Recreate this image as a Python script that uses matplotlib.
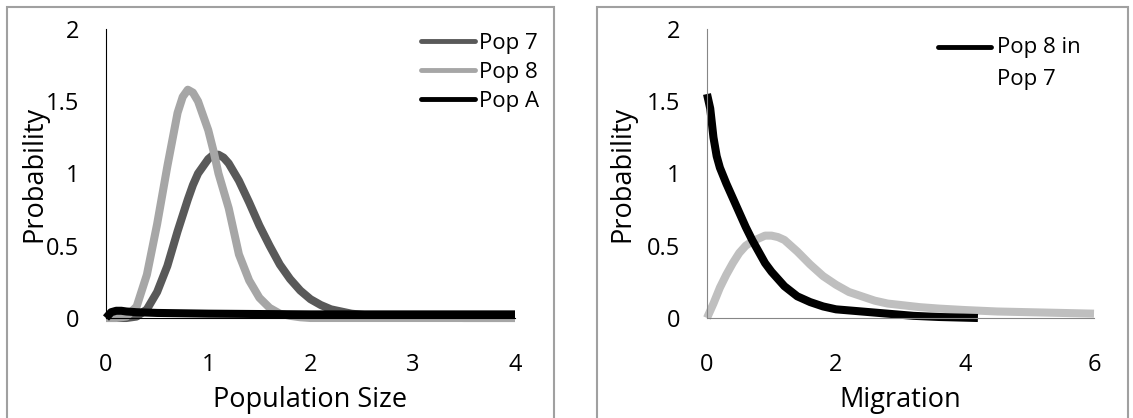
import numpy as np
import matplotlib
matplotlib.use("Agg")
import matplotlib.pyplot as plt
from matplotlib.patches import Rectangle

plt.rcParams['font.family'] = ['Open Sans', 'DejaVu Sans']

# left panel: population size
size_x = [0, 0.1, 0.2, 0.3, 0.4, 0.5, 0.6, 0.7, 0.75, 0.8, 0.85, 0.9, 1.0, 1.05, 1.1, 1.15,
          1.2, 1.3, 1.4, 1.5, 1.6, 1.7, 1.8, 1.9, 2.0, 2.1, 2.2, 2.4, 2.6, 2.8, 3.0, 3.5, 4.0]
pop7 = [0, 0, 0, 0.01, 0.06, 0.18, 0.36, 0.6, 0.71, 0.82, 0.92, 1.0, 1.1, 1.13, 1.13, 1.11,
        1.07, 0.95, 0.8, 0.64, 0.5, 0.37, 0.27, 0.19, 0.13, 0.09, 0.06, 0.03, 0.015, 0.01,
        0.005, 0, 0]
pop8 = [0, 0, 0.01, 0.08, 0.3, 0.65, 1.05, 1.42, 1.53, 1.58, 1.56, 1.5, 1.3, 1.16, 1.0,
        0.88, 0.76, 0.44, 0.26, 0.14, 0.07, 0.03, 0.015, 0.005, 0, 0, 0, 0, 0, 0, 0, 0, 0]
popA_x = [0, 0.05, 0.1, 0.15, 0.2, 0.3, 0.5, 1.0, 2.0, 3.0, 4.0]
popA = [0, 0.04, 0.05, 0.05, 0.045, 0.04, 0.035, 0.03, 0.025, 0.025, 0.025]

# right panel: migration
mig_x = [0, 0.05, 0.1, 0.15, 0.2, 0.3, 0.4, 0.5, 0.6, 0.7, 0.8, 0.9, 1.0, 1.2, 1.4,
         1.6, 1.8, 2.0, 2.4, 2.8, 3.2, 3.6, 4.2]
mig87 = [1.55, 1.45, 1.25, 1.12, 1.04, 0.93, 0.83, 0.73, 0.63, 0.54, 0.46, 0.38, 0.32,
         0.22, 0.15, 0.11, 0.08, 0.06, 0.045, 0.03, 0.015, 0.007, 0]
mig2_x = [0, 0.1, 0.2, 0.3, 0.4, 0.5, 0.6, 0.7, 0.8, 0.9, 1.0, 1.1, 1.2, 1.4, 1.6, 1.8,
          2.0, 2.2, 2.4, 2.6, 2.8, 3.0, 3.3, 3.6, 4.0, 4.5, 5.0, 5.5, 6.0]
mig2 = [0, 0.1, 0.21, 0.3, 0.38, 0.45, 0.5, 0.53, 0.55, 0.57, 0.57, 0.56, 0.54, 0.46,
        0.37, 0.29, 0.23, 0.18, 0.15, 0.12, 0.1, 0.09, 0.075, 0.065, 0.055, 0.045, 0.04,
        0.035, 0.03]

W, H = 1133, 418
fig = plt.figure(figsize=(W / 100, H / 100), dpi=100)

# panel frames
fig.patches.append(Rectangle((7 / W, -0.1), (554 - 7) / W, 1.1 - 7 / H, transform=fig.transFigure,
                             fill=False, edgecolor='#a0a0a0', linewidth=1.5))
fig.patches.append(Rectangle((597 / W, -0.1), (1128 - 597) / W, 1.1 - 7 / H, transform=fig.transFigure,
                             fill=False, edgecolor='#a0a0a0', linewidth=1.5))

lw = 5.8
fs = 17      # tick labels
lfs = 16     # legend
afs = 19.5   # axis titles
style = dict(lw=lw, solid_capstyle='butt', solid_joinstyle='round', clip_on=False)

ax1 = fig.add_axes([106 / W, 100 / H, 409 / W, 289 / H])
ax1.plot(size_x, pop7, color='#595959', label='Pop 7', **style)
ax1.plot(size_x, pop8, color='#a6a6a6', label='Pop 8', **style)
ax1.plot(popA_x, popA, color='black', label='Pop A', **style)
ax1.set_xlim(0, 4)
ax1.set_ylim(0, 2)
ax1.set_xticks([0, 1, 2, 3, 4])
ax1.set_yticks([0, 0.5, 1, 1.5, 2])
ax1.set_yticklabels(['0', '0.5', '1', '1.5', '2'])
for s in ['top', 'right']:
    ax1.spines[s].set_visible(False)
ax1.spines['left'].set_color('black')
ax1.spines['bottom'].set_color('black')
ax1.tick_params(length=0, labelsize=fs)
ax1.tick_params(axis='x', pad=25)
ax1.tick_params(axis='y', pad=19)
ax1.set_xlabel('Population Size', fontsize=afs)
ax1.set_ylabel('Probability', fontsize=afs)
ax1.xaxis.set_label_coords(0.5, -0.235)
ax1.yaxis.set_label_coords(-0.142, 0.5)
leg = ax1.legend(loc='upper left', bbox_to_anchor=(421 / W, 1 - 33 / H), bbox_transform=fig.transFigure,
                 frameon=False, fontsize=lfs, handlelength=2.43, handletextpad=0.18,
                 labelspacing=0.35, borderpad=0, borderaxespad=0)
for ln in leg.get_lines():
    ln.set_linewidth(3.5)
    ln.set_solid_capstyle('round')

ax2 = fig.add_axes([707 / W, 100 / H, 387 / W, 289 / H])
ax2.plot(mig2_x, mig2, color='#bfbfbf', **style)
ax2.plot(mig_x, mig87, color='black', **style)
ax2.set_xlim(0, 6)
ax2.set_ylim(0, 2)
ax2.set_xticks([0, 2, 4, 6])
ax2.set_yticks([0, 0.5, 1, 1.5, 2])
ax2.set_yticklabels(['0', '0.5', '1', '1.5', '2'])
for s in ['top', 'right']:
    ax2.spines[s].set_visible(False)
ax2.spines['left'].set_color('#868686')
ax2.spines['bottom'].set_color('#868686')
ax2.tick_params(length=0, labelsize=fs)
ax2.tick_params(axis='x', pad=25)
ax2.tick_params(axis='y', pad=19)
ax2.set_xlabel('Migration', fontsize=afs)
ax2.set_ylabel('Probability', fontsize=afs)
ax2.xaxis.set_label_coords(0.5, -0.235)
ax2.yaxis.set_label_coords(-0.183, 0.5)

# legend for the black curve, handle next to the first text line
ax2.plot([938 / W, 991 / W], [1 - 47 / H, 1 - 47 / H], transform=fig.transFigure,
         color='black', lw=3.5, solid_capstyle='round', clip_on=False)
fig.text(997 / W, 1 - 47 / H, 'Pop 8 in', fontsize=lfs, va='center', ha='left')
fig.text(997 / W, 1 - 80 / H, 'Pop 7', fontsize=lfs, va='center', ha='left')

fig.savefig('out.png', dpi=100)
